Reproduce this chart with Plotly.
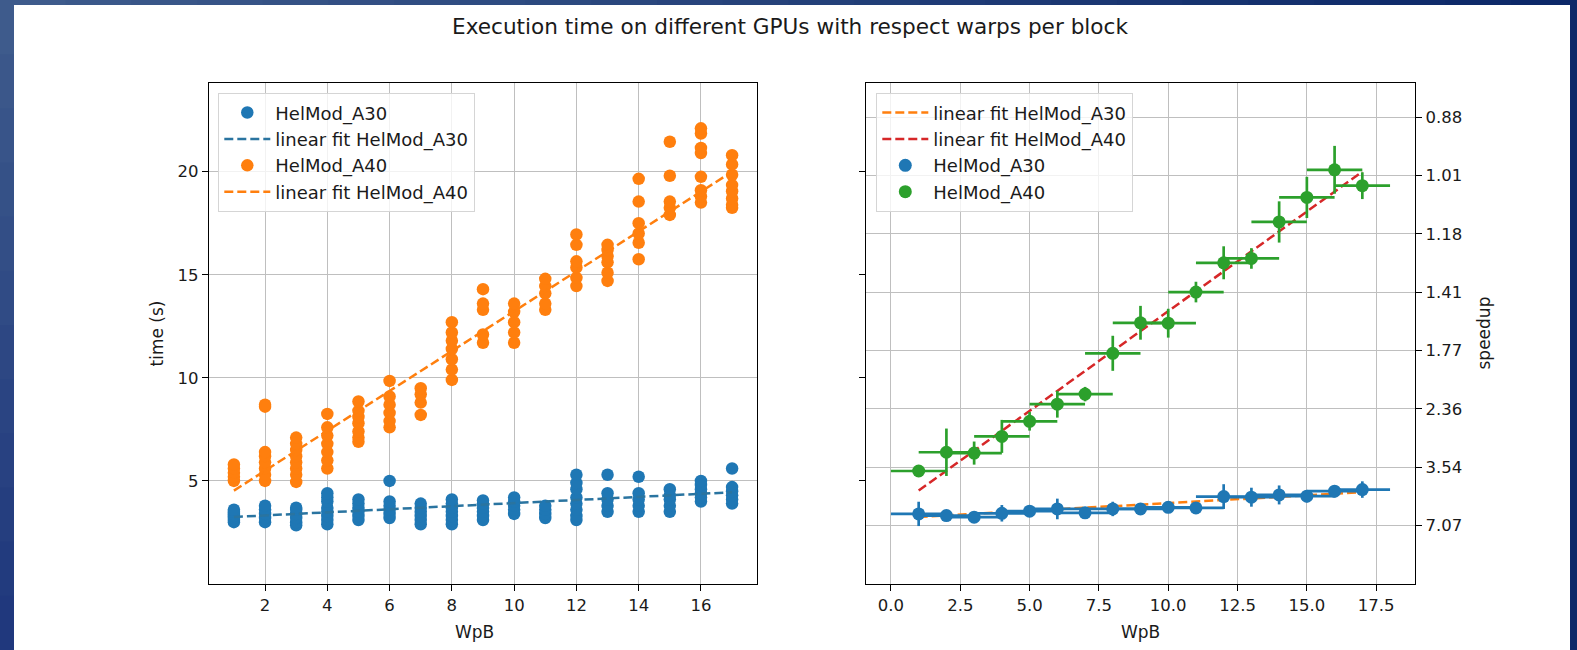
import plotly.graph_objects as go

# ---------------- data ----------------
wpb = [1, 2, 3, 4, 5, 6, 7, 8, 9, 10, 11, 12, 13, 14, 15, 16, 17]

a30_times = [
    [3.0, 3.1, 3.2, 3.3, 3.4, 3.5, 3.6],
    [3.0, 3.2, 3.4, 3.6, 3.8],
    [2.85, 3.0, 3.2, 3.4, 3.6, 3.7],
    [2.9, 3.1, 3.3, 3.5, 3.7, 4.0, 4.2, 4.4],
    [3.1, 3.3, 3.5, 3.7, 3.9, 4.1],
    [3.2, 3.4, 3.6, 3.8, 4.0, 5.0],
    [2.9, 3.1, 3.3, 3.5, 3.7, 3.9],
    [2.9, 3.1, 3.3, 3.5, 3.7, 3.9, 4.1],
    [3.1, 3.3, 3.5, 3.7, 3.9, 4.05],
    [3.4, 3.6, 3.8, 4.0, 4.2],
    [3.2, 3.4, 3.6, 3.8],
    [3.1, 3.3, 3.6, 3.9, 4.2, 4.6, 4.9, 5.3],
    [3.5, 3.8, 4.1, 4.4, 5.3],
    [3.5, 3.8, 4.1, 4.4, 5.2],
    [3.5, 3.8, 4.1, 4.3, 4.6],
    [4.0, 4.2, 4.4, 4.6, 4.8, 5.0],
    [3.9, 4.1, 4.3, 4.5, 4.7, 5.6],
]

a40_times = [
    [5.0, 5.2, 5.4, 5.6, 5.8],
    [5.0, 5.3, 5.6, 5.9, 6.2, 6.4, 8.6, 8.7],
    [4.95, 5.3, 5.6, 5.9, 6.2, 6.5, 6.8, 7.1],
    [5.6, 6.0, 6.4, 6.8, 7.2, 7.6, 8.25],
    [6.9, 7.1, 7.4, 7.8, 8.1, 8.4, 8.85],
    [7.6, 7.9, 8.3, 8.7, 9.1, 9.85],
    [8.2, 8.8, 9.2, 9.5],
    [9.9, 10.4, 10.9, 11.4, 11.8, 12.2, 12.7],
    [11.7, 12.1, 13.3, 13.6, 14.3],
    [11.7, 12.2, 12.7, 13.2, 13.6],
    [13.3, 13.6, 14.1, 14.45, 14.8],
    [14.45, 14.85, 15.35, 15.65, 16.45, 16.95],
    [14.7, 15.1, 15.6, 15.9, 16.2, 16.45],
    [15.75, 16.55, 17.0, 17.5, 18.55, 19.65],
    [17.9, 18.25, 18.55, 19.8, 21.45],
    [18.5, 18.8, 19.1, 19.75, 20.9, 21.15, 21.85, 22.1],
    [18.25, 18.4, 18.7, 19.05, 19.35, 19.85, 20.35, 20.8],
]

# linear fit end points (x = 1 and x = 17)
fit_x = [1, 17]
fit_a30 = [3.25, 4.45]
fit_a40 = [4.53, 20.0]

# right panel: mean times with errors
a30_mean = [3.40, 3.32, 3.24, 3.43, 3.53, 3.64, 3.45, 3.64, 3.64, 3.72, 3.69,
            4.24, 4.21, 4.32, 4.26, 4.50, 4.58]
a30_err = [0.59, 0.2, 0.25, 0.4, 0.25, 0.5, 0.25, 0.35, 0.25, 0.2, 0.15,
           0.6, 0.46, 0.46, 0.3, 0.3, 0.4]
a40_mean = [5.48, 6.39, 6.35, 7.16, 7.89, 8.72, 9.21, 11.19, 12.67, 12.65, 14.16,
            15.58, 15.79, 17.56, 18.75, 20.09, 19.32]
a40_err = [0.2, 1.15, 0.56, 0.8, 0.45, 0.65, 0.35, 0.85, 0.82, 0.7, 0.5,
           0.8, 0.5, 1.0, 1.0, 1.16, 0.65]
wpb_err = [1, 1, 1, 1, 1, 1, 1, 1, 1, 1, 1, 1, 1, 1, 1, 1, 1]

speedup_pos = [2.83, 5.66, 8.49, 11.32, 14.15, 16.98, 19.81, 22.64]
speedup_labels = ["7.07", "3.54", "2.36", "1.77", "1.41", "1.18", "1.01", "0.88"]

y_range = [0, 24.3]

# ---------------- geometry ----------------
W_FIG, H_FIG = 1577, 650
L, R, T, B = 209, 1415, 83, 584
PW, PH = R - L, B - T


def fx(px):
    return (px - L) / PW


def fy(py):
    return (B - py) / PH


C_BLUE = "#1f77b4"
C_ORANGE = "#ff7f0e"
C_GREEN = "#2ca02c"
C_RED = "#d62728"
C_FITBLUE = "#2a74a0"
TXT = "#1a1a1a"
FONT = "DejaVu Sans"
FS = 16.5
GRID = "#bfbfbf"
DASH = "9px,4px"

fig = go.Figure()


def flat(groups):
    xs, ys = [], []
    for x, g in zip(wpb, groups):
        for v in g:
            xs.append(x)
            ys.append(v)
    return xs, ys


xa30, ya30 = flat(a30_times)
xa40, ya40 = flat(a40_times)

# left panel
fig.add_trace(go.Scatter(x=xa30, y=ya30, mode="markers", name="HelMod_A30",
                         marker=dict(color=C_BLUE, size=12.5), legend="legend",
                         xaxis="x", yaxis="y"))
fig.add_trace(go.Scatter(x=fit_x, y=fit_a30, mode="lines", name="linear fit HelMod_A30",
                         line=dict(color=C_FITBLUE, width=2.5, dash=DASH),
                         legend="legend", xaxis="x", yaxis="y"))
fig.add_trace(go.Scatter(x=xa40, y=ya40, mode="markers", name="HelMod_A40",
                         marker=dict(color=C_ORANGE, size=12.5), legend="legend",
                         xaxis="x", yaxis="y"))
fig.add_trace(go.Scatter(x=fit_x, y=fit_a40, mode="lines", name="linear fit HelMod_A40",
                         line=dict(color=C_ORANGE, width=2.5, dash=DASH),
                         legend="legend", xaxis="x", yaxis="y"))

# right panel: fits on base axis y2 (speedup side), error bars on overlay y3
fig.add_trace(go.Scatter(x=fit_x, y=fit_a30, mode="lines", name="linear fit HelMod_A30",
                         line=dict(color=C_ORANGE, width=2.5, dash=DASH),
                         legend="legend2", xaxis="x2", yaxis="y2"))
fig.add_trace(go.Scatter(x=fit_x, y=fit_a40, mode="lines", name="linear fit HelMod_A40",
                         line=dict(color=C_RED, width=2.5, dash=DASH),
                         legend="legend2", xaxis="x2", yaxis="y2"))
fig.add_trace(go.Scatter(x=wpb, y=a30_mean, mode="markers", name="HelMod_A30",
                         marker=dict(color=C_BLUE, size=13),
                         error_x=dict(type="data", array=wpb_err, width=0, thickness=2.7, color=C_BLUE),
                         error_y=dict(type="data", array=a30_err, width=0, thickness=2.7, color=C_BLUE),
                         legend="legend2", xaxis="x2", yaxis="y3"))
fig.add_trace(go.Scatter(x=wpb, y=a40_mean, mode="markers", name="HelMod_A40",
                         marker=dict(color=C_GREEN, size=13),
                         error_x=dict(type="data", array=wpb_err, width=0, thickness=2.7, color=C_GREEN),
                         error_y=dict(type="data", array=a40_err, width=0, thickness=2.7, color=C_GREEN),
                         legend="legend2", xaxis="x2", yaxis="y3"))

axis_common = dict(showline=True, linecolor="black", linewidth=1.3, ticks="outside",
                   ticklen=6, tickwidth=1.3, tickcolor="black",
                   tickfont=dict(family=FONT, size=FS, color=TXT), zeroline=False,
                   gridcolor=GRID, gridwidth=1.3)

legend_common = dict(font=dict(family=FONT, size=18, color=TXT), bgcolor="rgba(255,255,255,0.8)",
                     bordercolor="#d5d5d5", borderwidth=1.3, xanchor="left", yanchor="top",
                     tracegroupgap=0, itemwidth=46)

fig.update_layout(
    width=W_FIG, height=H_FIG,
    margin=dict(l=L, r=W_FIG - R, t=T, b=H_FIG - B, pad=0),
    paper_bgcolor="#16316f", plot_bgcolor="white",
    showlegend=True,
    xaxis=dict(domain=[0, fx(757)], range=[0.2, 17.8], tickvals=[2, 4, 6, 8, 10, 12, 14, 16],
               showgrid=True, mirror=True, anchor="y", **axis_common),
    yaxis=dict(domain=[0, 1], range=y_range, tickvals=[5, 10, 15, 20], showgrid=True,
               mirror=True, anchor="x", **axis_common),
    xaxis2=dict(domain=[fx(866), 1], range=[-0.9, 18.9], tickvals=[0, 2.5, 5, 7.5, 10, 12.5, 15, 17.5],
                tickformat=".1f", showgrid=True, mirror=True, anchor="y2", **axis_common),
    yaxis2=dict(domain=[0, 1], range=y_range, tickvals=speedup_pos, ticktext=speedup_labels,
                showgrid=True, anchor="x2", side="right", **axis_common),
    yaxis3=dict(range=y_range, tickvals=[5, 10, 15, 20], showticklabels=False, showgrid=False,
                overlaying="y2", anchor="x2", side="left", **axis_common),
    legend=dict(x=fx(218), y=fy(93), **legend_common),
    legend2=dict(x=fx(876), y=fy(93), **legend_common),
)

# background: gradient frame + white panel
shapes = []
n = 24
c0 = (62, 91, 140)
c1 = (12, 40, 104)
x_left = -L / PW
x_right = (W_FIG - L) / PW
for i in range(n):
    t = i / (n - 1)
    col = "rgb(%d,%d,%d)" % tuple(int(c0[k] + (c1[k] - c0[k]) * t) for k in range(3))
    xa = x_left + (x_right - x_left) * i / n
    xb = x_left + (x_right - x_left) * (i + 1) / n + 0.002
    shapes.append(dict(type="rect", xref="paper", yref="paper", x0=xa, x1=xb,
                       y0=fy(H_FIG + 5), y1=fy(-5), fillcolor=col, line=dict(width=0), layer="below"))
# left strip darkening downward
m = 12
for i in range(m):
    t = i / (m - 1)
    col = "rgb(%d,%d,%d)" % (int(62 - 30 * t), int(91 - 35 * t), int(140 - 15 * t))
    shapes.append(dict(type="rect", xref="paper", yref="paper", x0=x_left - 0.01, x1=fx(14),
                       y0=fy(H_FIG * (i + 1) / m + 1), y1=fy(H_FIG * i / m),
                       fillcolor=col, line=dict(width=0), layer="below"))
shapes.append(dict(type="rect", xref="paper", yref="paper", x0=fx(14), x1=fx(1570),
                   y0=fy(H_FIG + 5), y1=fy(5), fillcolor="white", line=dict(width=0), layer="below"))
fig.update_layout(shapes=shapes)

ann = [
    dict(text="Execution time on different GPUs with respect warps per block", x=fx(790), y=fy(27),
         font=dict(family=FONT, size=21.6, color=TXT)),
    dict(text="time (s)", x=fx(156), y=fy(333.5), textangle=-90, font=dict(family=FONT, size=17, color=TXT)),
    dict(text="WpB", x=fx(474), y=fy(632), font=dict(family=FONT, size=17, color=TXT)),
    dict(text="WpB", x=fx(1140.5), y=fy(632), font=dict(family=FONT, size=17, color=TXT)),
    dict(text="speedup", x=fx(1483), y=fy(333.5), textangle=-90, font=dict(family=FONT, size=17, color=TXT)),
]
for a in ann:
    a.update(xref="paper", yref="paper", xanchor="center", yanchor="middle", showarrow=False)
fig.update_layout(annotations=ann)

fig.write_html("out.html")
